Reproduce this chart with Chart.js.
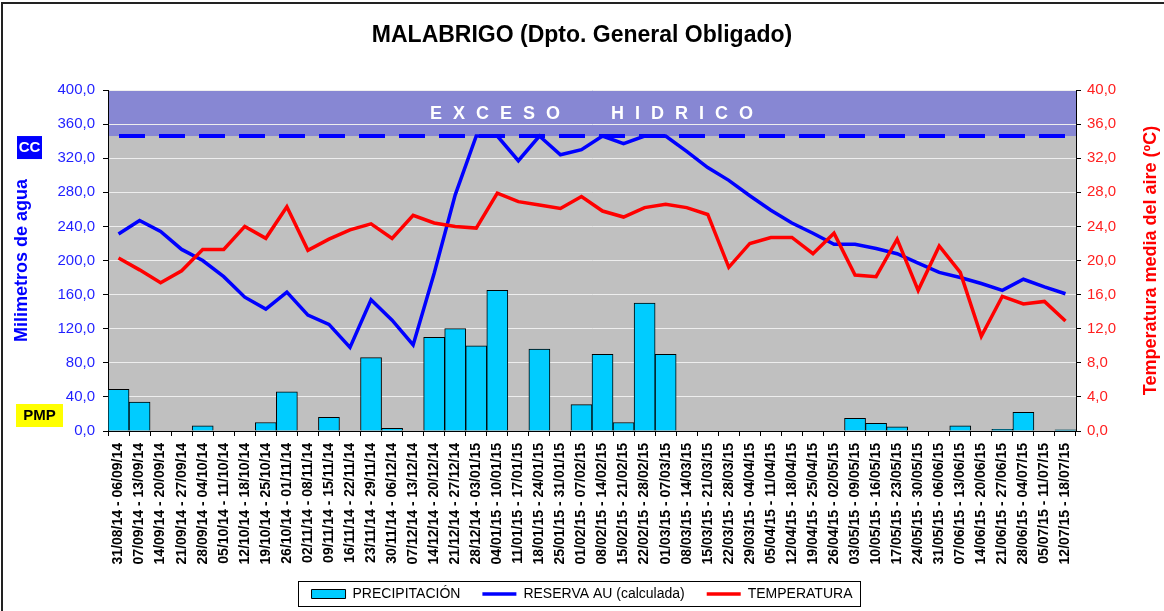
<!DOCTYPE html>
<html>
<head>
<meta charset="utf-8">
<script src="https://cdn.jsdelivr.net/npm/chart.js@4.4.0/dist/chart.umd.min.js"></script>
<style>
  body { margin: 0; background: #fff; }
</style>
</head>
<body>
<canvas id="myChart" width="1164" height="611"></canvas>
<script>
// semanas (eje x)
const semanas = [
  "31/08/14 - 06/09/14", "07/09/14 - 13/09/14", "14/09/14 - 20/09/14", "21/09/14 - 27/09/14",
  "28/09/14 - 04/10/14", "05/10/14 - 11/10/14", "12/10/14 - 18/10/14", "19/10/14 - 25/10/14",
  "26/10/14 - 01/11/14", "02/11/14 - 08/11/14", "09/11/14 - 15/11/14", "16/11/14 - 22/11/14",
  "23/11/14 - 29/11/14", "30/11/14 - 06/12/14", "07/12/14 - 13/12/14", "14/12/14 - 20/12/14",
  "21/12/14 - 27/12/14", "28/12/14 - 03/01/15", "04/01/15 - 10/01/15", "11/01/15 - 17/01/15",
  "18/01/15 - 24/01/15", "25/01/15 - 31/01/15", "01/02/15 - 07/02/15", "08/02/15 - 14/02/15",
  "15/02/15 - 21/02/15", "22/02/15 - 28/02/15", "01/03/15 - 07/03/15", "08/03/15 - 14/03/15",
  "15/03/15 - 21/03/15", "22/03/15 - 28/03/15", "29/03/15 - 04/04/15", "05/04/15 - 11/04/15",
  "12/04/15 - 18/04/15", "19/04/15 - 25/04/15", "26/04/15 - 02/05/15", "03/05/15 - 09/05/15",
  "10/05/15 - 16/05/15", "17/05/15 - 23/05/15", "24/05/15 - 30/05/15", "31/05/15 - 06/06/15",
  "07/06/15 - 13/06/15", "14/06/15 - 20/06/15", "21/06/15 - 27/06/15", "28/06/15 - 04/07/15",
  "05/07/15 - 11/07/15", "12/07/15 - 18/07/15"
];

// mm
const precipitacion = [49, 34, 0, 0, 6, 0, 0, 10, 46, 0, 16, 0, 86, 3, 0, 110, 120, 100, 165, 0,
  96, 0, 31, 90, 10, 150, 90, 0, 0, 0, 0, 0, 0, 0, 0, 15, 9, 5, 0, 0, 6, 0, 2, 22, 0, 1.5];

const reserva = [231, 247, 234, 213, 200, 181, 157, 143, 163, 136, 125, 98, 154, 130, 101, 185,
  277, 346, 346, 317, 346, 324, 330, 346, 337, 346, 346, 328, 309, 294, 276, 259, 244, 232, 219,
  219, 214, 208, 197, 186, 180, 173, 165, 178, 169, 161];

// ºC
const temperatura = [20.3, 18.9, 17.4, 18.8, 21.3, 21.3, 24.0, 22.6, 26.3, 21.2, 22.5, 23.6, 24.3,
  22.6, 25.3, 24.4, 24.0, 23.8, 27.9, 26.9, 26.5, 26.1, 27.5, 25.8, 25.1, 26.2, 26.6, 26.2, 25.4,
  19.2, 22.0, 22.7, 22.7, 20.8, 23.2, 18.3, 18.1, 22.5, 16.5, 21.7, 18.6, 11.1, 15.8, 14.9, 15.2, 12.9];

const CC = 346;      // capacidad de campo (mm)
const MM_MAX = 400;
const TEMP_MAX = 40;

Chart.defaults.font.family = "'Liberation Sans', Arial, sans-serif";

const fmt = v => v.toFixed(1).replace('.', ',');

// fondo, franja de exceso, linea CC, etiquetas CC / PMP, titulo derecho, marco leyenda
const decoraciones = {
  id: 'decoraciones',
  beforeDraw(chart) {
    const ctx = chart.ctx, a = chart.chartArea, y = chart.scales.y;
    ctx.save();
    ctx.fillStyle = '#fff';
    ctx.fillRect(0, 0, chart.width, chart.height);
    // marco
    ctx.strokeStyle = '#222';
    ctx.lineWidth = 2;
    ctx.beginPath();
    ctx.moveTo(2, chart.height);
    ctx.lineTo(2, 3);
    ctx.lineTo(chart.width, 3);
    ctx.stroke();

    ctx.fillStyle = '#C0C0C0';
    ctx.fillRect(a.left, a.top, a.right - a.left, a.bottom - a.top);
    const yCC = y.getPixelForValue(CC);
    ctx.fillStyle = '#8787D3';
    ctx.fillRect(a.left, y.getPixelForValue(MM_MAX), a.right - a.left, yCC - y.getPixelForValue(MM_MAX));

    ctx.fillStyle = '#fff';
    ctx.font = "bold 18px 'Liberation Sans', Arial, sans-serif";
    ctx.textBaseline = 'middle';
    ctx.letterSpacing = '11px';
    ctx.fillText('EXCESO', a.left + 322, a.top + 24);
    ctx.fillText('HIDRICO', a.left + 503, a.top + 24);
    ctx.letterSpacing = '0px';

    // CC / PMP
    ctx.fillStyle = '#0000FF';
    ctx.fillRect(17, yCC, 25, 23);
    ctx.fillStyle = '#fff';
    ctx.font = "bold 15px 'Liberation Sans', Arial, sans-serif";
    ctx.textAlign = 'center';
    ctx.fillText('CC', 29.5, yCC + 12);
    const y0 = y.getPixelForValue(0);
    ctx.fillStyle = '#FFFF00';
    ctx.fillRect(16, y0 - 27, 47, 23);
    ctx.fillStyle = '#000';
    ctx.fillText('PMP', 39.5, y0 - 15);
    ctx.restore();
  },
  afterDatasetsDraw(chart) {
    const ctx = chart.ctx, a = chart.chartArea;
    const yCC = chart.scales.y.getPixelForValue(CC);
    ctx.save();
    ctx.strokeStyle = '#0000FF';
    ctx.lineWidth = 4;
    ctx.setLineDash([26, 14]);
    ctx.beginPath();
    ctx.moveTo(a.left + 11, yCC);
    ctx.lineTo(a.right - 10, yCC);
    ctx.stroke();
    ctx.restore();
  },
  afterDraw(chart) {
    const ctx = chart.ctx, a = chart.chartArea;
    ctx.save();
    ctx.translate(a.right + 75, (a.top + a.bottom) / 2);
    ctx.rotate(-Math.PI / 2);
    ctx.fillStyle = '#FF0000';
    ctx.font = "bold 18px 'Liberation Sans', Arial, sans-serif";
    ctx.textAlign = 'center';
    ctx.textBaseline = 'middle';
    ctx.fillText('Temperatura media del aire (ºC)', 0, 0);
    ctx.restore();

    const hb = chart.legend.legendHitBoxes;
    if (hb && hb.length) {
      const l = Math.min(...hb.map(h => h.left)) - 14;
      const r = Math.max(...hb.map(h => h.left + h.width)) + 7;
      const t = hb[0].top - 6;
      const b = hb[0].top + hb[0].height + 5;
      ctx.save();
      ctx.strokeStyle = '#000';
      ctx.lineWidth = 1;
      ctx.strokeRect(Math.round(l) + 0.5, Math.round(t) + 0.5, Math.round(r - l), Math.round(b - t));
      ctx.restore();
    }
  }
};

const ctx = document.getElementById('myChart').getContext('2d');
const myChart = new Chart(ctx, {
  data: {
    labels: semanas,
    datasets: [
      {
        type: 'bar',
        label: 'PRECIPITACIÓN',
        data: precipitacion,
        yAxisID: 'y',
        backgroundColor: '#00CCFF',
        borderColor: '#000',
        borderWidth: 1,
        barPercentage: 1,
        categoryPercentage: 1,
        pointStyle: 'rect',
        order: 3
      },
      {
        type: 'line',
        label: 'RESERVA AU (calculada)',
        data: reserva,
        yAxisID: 'y',
        borderColor: '#0000FF',
        backgroundColor: '#0000FF',
        borderWidth: 3.5,
        pointRadius: 0,
        tension: 0,
        pointStyle: 'line',
        order: 1
      },
      {
        type: 'line',
        label: 'TEMPERATURA',
        data: temperatura,
        yAxisID: 'y2',
        borderColor: '#FF0000',
        backgroundColor: '#FF0000',
        borderWidth: 3.5,
        pointRadius: 0,
        tension: 0,
        pointStyle: 'line',
        order: 0
      }
    ]
  },
  options: {
    responsive: false,
    animation: false,
    layout: { padding: 0 },
    plugins: {
      title: {
        display: true,
        text: 'MALABRIGO (Dpto. General Obligado)',
        color: '#000',
        font: { size: 23, weight: 'bold' },
        padding: { top: 22, bottom: 40.4 }
      },
      legend: {
        position: 'bottom',
        maxHeight: 46,
        labels: {
          usePointStyle: true,
          pointStyleWidth: 34,
          boxHeight: 9,
          padding: 22,
          color: '#000',
          font: { size: 14 },
          sort: (a, b) => a.datasetIndex - b.datasetIndex
        }
      },
      tooltip: { enabled: false }
    },
    scales: {
      x: {
        offset: true,
        grid: { display: true, drawOnChartArea: false, tickLength: 5, tickColor: '#000', offset: true },
        border: { color: '#000', width: 1 },
        ticks: {
          autoSkip: false,
          maxRotation: 90,
          minRotation: 90,
          padding: 7,
          color: '#000',
          font: { size: 14, weight: 'bold' }
        },
        afterFit: s => { s.height = 134; }
      },
      y: {
        position: 'left',
        min: 0,
        max: MM_MAX,
        ticks: { stepSize: 40, color: '#1F1FFF', font: { size: 15 }, padding: 8, callback: v => fmt(v) },
        grid: { color: '#EEEEEE', tickColor: '#000', tickLength: 5 },
        border: { color: '#000', width: 1 },
        title: {
          display: true,
          text: 'Milimetros de agua',
          color: '#0000FF',
          font: { size: 18, weight: 'bold' },
          padding: { top: 11, bottom: 0 }
        },
        afterFit: s => { s.width = 108; }
      },
      y2: {
        position: 'right',
        min: 0,
        max: TEMP_MAX,
        ticks: { stepSize: 4, color: '#FF1F1F', font: { size: 15 }, padding: 6, callback: v => fmt(v) },
        grid: { drawOnChartArea: false, tickColor: '#000', tickLength: 5 },
        border: { color: '#000', width: 1 },
        afterFit: s => { s.width = 88; }
      }
    }
  },
  plugins: [decoraciones]
});
</script>
</body>
</html>
